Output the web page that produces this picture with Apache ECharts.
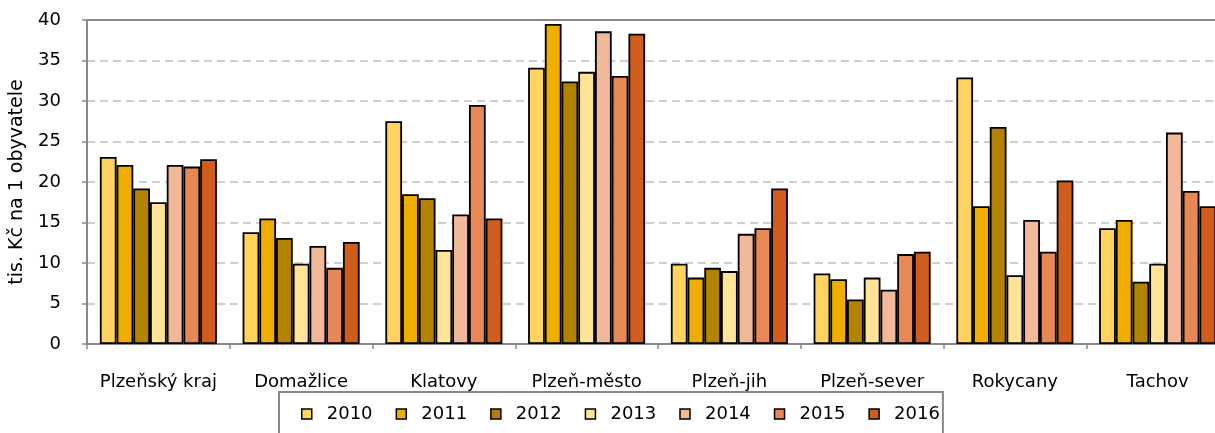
<!DOCTYPE html>
<html>
<head>
<meta charset="utf-8">
<script src="https://cdn.jsdelivr.net/npm/echarts@6/dist/echarts.min.js"></script>
<style>html,body{margin:0;padding:0;background:#fff;}#c{width:1215px;height:433px;}</style>
</head>
<body>
<div id="c"></div>
<script>
const categories = ['Plzeňský kraj','Domažlice','Klatovy','Plzeň-město','Plzeň-jih','Plzeň-sever','Rokycany','Tachov'];
const years = ['2010','2011','2012','2013','2014','2015','2016'];
const v2010 = [23.1, 13.8, 27.5, 34.1, 9.9, 8.7, 32.9, 14.3];
const v2011 = [22.1, 15.5, 18.5, 39.5, 8.2, 8.0, 17.0, 15.3];
const v2012 = [19.2, 13.1, 18.0, 32.4, 9.4, 5.5, 26.8, 7.7];
const v2013 = [17.5, 9.9, 11.6, 33.6, 9.0, 8.2, 8.5, 9.9];
const v2014 = [22.1, 12.1, 16.0, 38.6, 13.6, 6.7, 15.3, 26.1];
const v2015 = [21.9, 9.4, 29.5, 33.1, 14.3, 11.1, 11.4, 18.9];
const v2016 = [22.8, 12.6, 15.5, 38.3, 19.2, 11.4, 20.2, 17.0];
const yTicks = [0, 5, 10, 15, 20, 25, 30, 35, 40];
const values = [v2010, v2011, v2012, v2013, v2014, v2015, v2016];
const colors = ['#FFD35D','#F0AD00','#B38300','#FFE396','#F2B89A','#E88955','#D05C1D'];
const font = '"DejaVu Sans", sans-serif';

const chart = echarts.init(document.getElementById('c'), null, {renderer: 'canvas'});
chart.setOption({
  animation: false,
  color: colors,
  grid: {left: 87, top: 20, width: 1142, bottom: 89, containLabel: false, outerBoundsMode: 'none'},
  legend: {
    data: years,
    left: 279, top: 392,
    width: 669,
    padding: [13, 3, 30, 22],
    borderColor: '#888', borderWidth: 2,
    itemWidth: 10, itemHeight: 10, itemGap: 23,
    icon: 'rect',
    itemStyle: {borderColor: '#000', borderWidth: 1.5},
    textStyle: {fontFamily: font, fontSize: 18, color: '#000', padding: [0,0,0,10]}
  },
  xAxis: [{
    type: 'category', data: categories,
    axisLine: {lineStyle: {color: '#888', width: 2}},
    axisTick: {show: true, length: 5, interval: 0, lineStyle: {color: '#888', width: 1.5}},
    axisLabel: {fontFamily: font, fontSize: 18, color: '#000', margin: 29, interval: 0}
  }, {
    type: 'category', data: categories, position: 'top',
    axisLine: {show: true, lineStyle: {color: '#888', width: 2}},
    axisTick: {show: false}, axisLabel: {show: false}
  }],
  yAxis: {
    type: 'value', min: 0, max: 40, interval: 5,
    name: 'tis. Kč na 1 obyvatele', nameLocation: 'middle', nameGap: 60, nameRotate: 90,
    nameTextStyle: {fontFamily: font, fontSize: 19, color: '#000'},
    axisLine: {show: true, lineStyle: {color: '#888', width: 2}},
    axisTick: {show: true, length: 5, lineStyle: {color: '#888', width: 1.5}},
    axisLabel: {fontFamily: font, fontSize: 18, color: '#000', margin: 26,
      formatter: v => yTicks.includes(v) ? String(v) : ''},
    splitLine: {show: true, lineStyle: {color: '#c0c0c0', type: [8, 5], width: 1.5}}
  },
  series: years.map((y, i) => ({
    name: y, type: 'bar', data: values[i], xAxisIndex: 0,
    barGap: '0%', barCategoryGap: '18%',
    itemStyle: {color: colors[i], borderColor: '#000', borderWidth: 1.8}
  }))
});
</script>
</body>
</html>
